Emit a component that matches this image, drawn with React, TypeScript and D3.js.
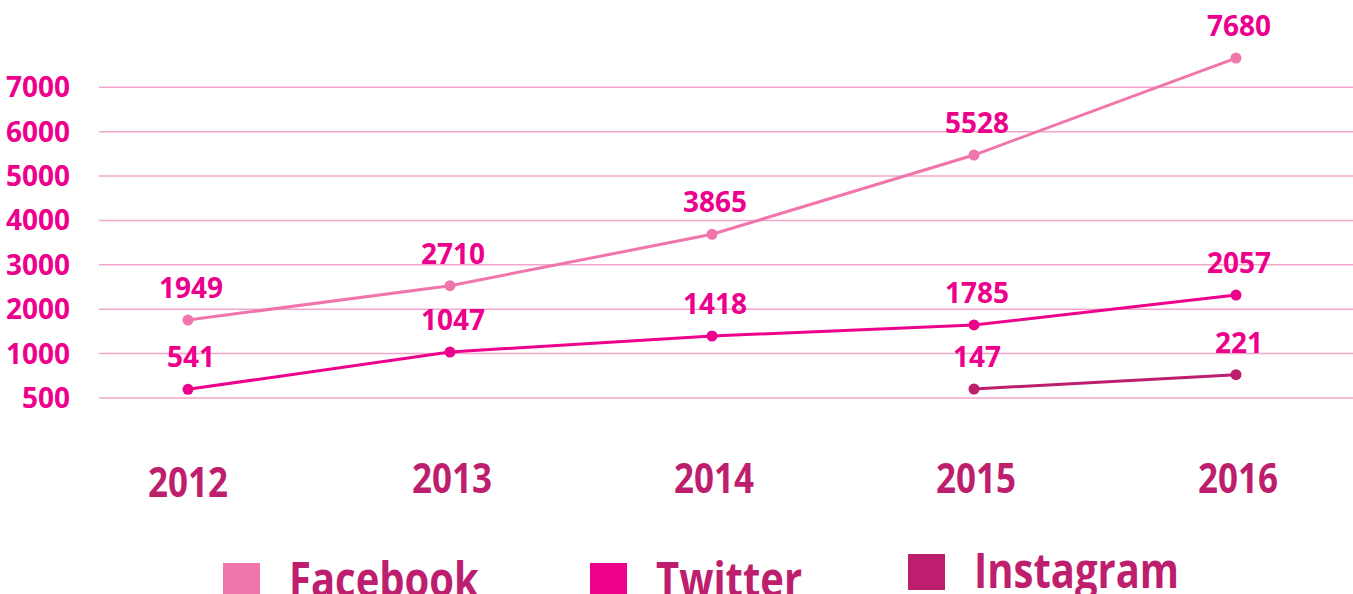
import React from 'react';
import * as d3 from 'd3';

// years on the x axis
const years = ['2012', '2013', '2014', '2015', '2016'];

// where the points sit on the grid
const facebookPlot = [1757, 2530, 3688, 5474, 7659];
const twitterPlot = [196, 1036, 1397, 1645, 2320];
const instagramPlot = [null, null, null, 203, 525];

// numbers printed above the points
const facebookLabels = ['1949', '2710', '3865', '5528', '7680'];
const twitterLabels = ['541', '1047', '1418', '1785', '2057'];
const instagramLabels = [null, null, null, '147', '221'];

// grid lines and the text shown next to them
const yTickValues = [0, 1000, 2000, 3000, 4000, 5000, 6000, 7000];
const yTickLabels = ['500', '1000', '2000', '3000', '4000', '5000', '6000', '7000'];

const seriesNames = ['Facebook', 'Twitter', 'Instagram'];
const seriesColors = ['#F075AA', '#EC008C', '#BE1E6E'];

const W = 1353;
const H = 594;
const FONT = '"Open Sans", "Noto Sans", sans-serif';

const App = () => {
  const x = d3.scalePoint<string>().domain(years).range([188, 1236]);
  const y = d3.scaleLinear().domain([0, 7000]).range([398, 87.3]);

  const series = [
    { values: facebookPlot, labels: facebookLabels },
    { values: twitterPlot, labels: twitterLabels },
    { values: instagramPlot, labels: instagramLabels },
  ];

  const line = d3
    .line<number | null>()
    .defined(d => d !== null)
    .x((_, i) => x(years[i]) as number)
    .y(d => y(d as number));

  const legendX = [223, 590, 908];
  const legendY = [563, 563, 554];

  return (
    <svg
      width={W}
      height={H}
      style={{ position: 'absolute', left: 0, top: 0, background: '#fff' }}
      fontFamily={FONT}
      fontWeight="bold"
    >
      {/* grid */}
      {yTickValues.map((v, i) => (
        <g key={v}>
          <line x1={99} x2={W} y1={y(v)} y2={y(v)} stroke="#F2A6CB" strokeWidth={1.5} />
          <text x={70} y={y(v) + 10} textAnchor="end" fontSize={28} fill="#EC008C">
            {yTickLabels[i]}
          </text>
        </g>
      ))}

      {/* x labels */}
      {years.map((yr, i) => (
        <text
          key={yr}
          transform={`translate(${(x(yr) as number) + (i === 0 ? 0 : 2)},${i === 0 ? 497 : 493}) scale(1,1.18)`}
          textAnchor="middle"
          fontSize={35}
          fill="#BE1E6E"
        >
          {yr}
        </text>
      ))}

      {/* lines, points, labels */}
      {series.map((s, si) => (
        <g key={si}>
          <path d={line(s.values) || ''} fill="none" stroke={seriesColors[si]} strokeWidth={3} />
          {s.values.map((v, i) =>
            v === null ? null : (
              <g key={i}>
                <circle cx={x(years[i])} cy={y(v)} r={5.5} fill={seriesColors[si]} />
                <text
                  x={(x(years[i]) as number) + 3}
                  y={y(v) - 22}
                  textAnchor="middle"
                  fontSize={28}
                  fill="#EC008C"
                >
                  {s.labels[i]}
                </text>
              </g>
            )
          )}
        </g>
      ))}

      {/* legend */}
      {seriesNames.map((name, i) => (
        <g key={name}>
          <rect x={legendX[i]} y={legendY[i]} width={37} height={36} fill={seriesColors[i]} />
          <text
            transform={`translate(${legendX[i] + 66},${legendY[i] + 34}) scale(1,1.2)`}
            fontSize={40}
            fill="#BE1E6E"
          >
            {name}
          </text>
        </g>
      ))}
    </svg>
  );
};

export default App;
